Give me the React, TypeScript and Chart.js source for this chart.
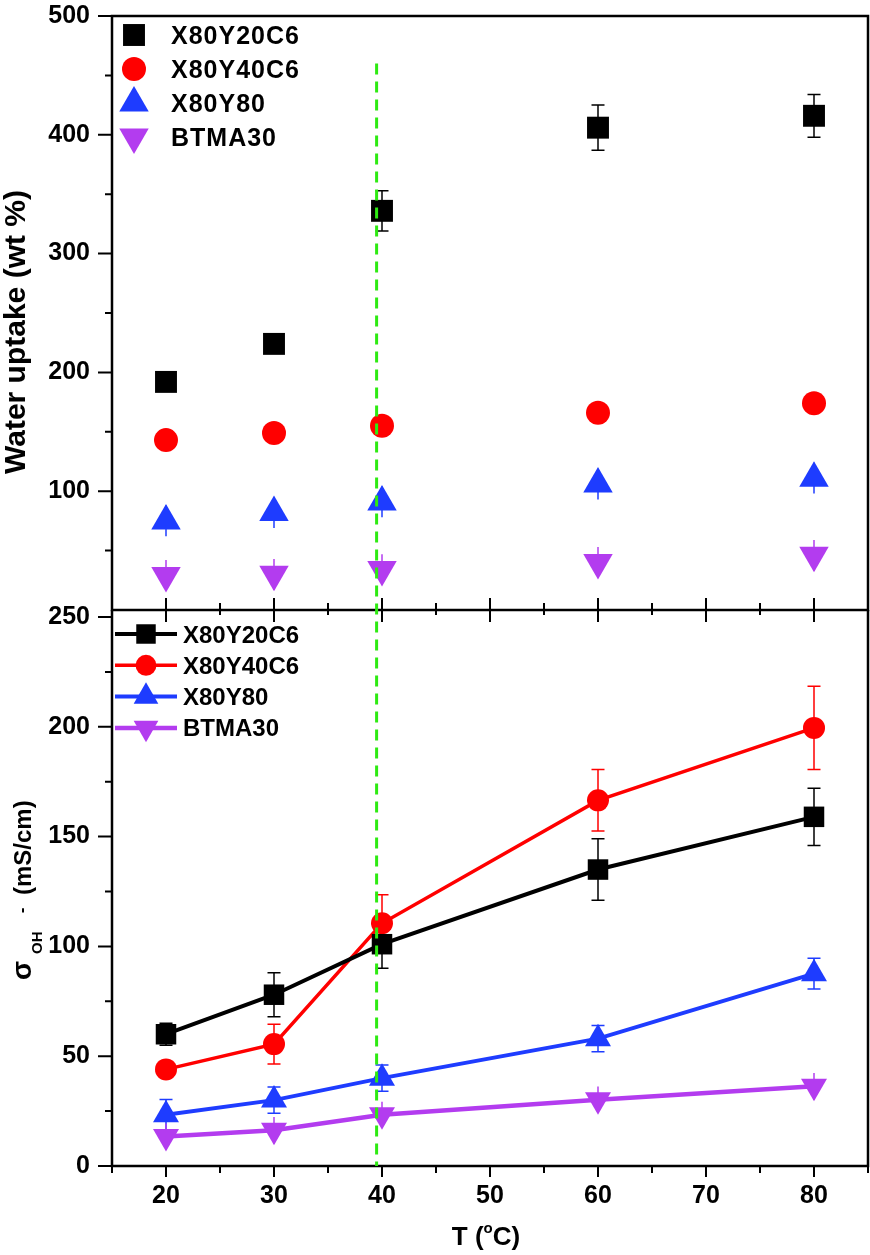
import React, { useEffect, useRef } from 'react';
import { Chart, registerables } from 'chart.js';
import { drawPoint } from 'chart.js/helpers';

Chart.register(...registerables);

// ---------------- data ----------------
const temperatures = [20, 30, 40, 60, 80];
const seriesNames = ['X80Y20C6', 'X80Y40C6', 'X80Y80', 'BTMA30'];
const seriesColors = ['#000000', '#FF0000', '#1E3CFF', '#B33CEF'];
const seriesStyles = ['rect', 'circle', 'triangle', 'triangle'];
const seriesRotations = [0, 0, 0, 180];

// water uptake (wt %)
const uptakeX80Y20C6 = [192, 224, 336, 406, 416];
const uptakeX80Y40C6 = [143, 149, 155, 166, 174];
const uptakeX80Y80 = [75, 82, 91, 106, 111];
const uptakeBTMA30 = [29, 30, 34, 40, 46];
const uptakeErrX80Y20C6 = [2, 3, 17, 19, 18];
const uptakeErrX80Y40C6 = [0, 0, 0, 0, 0];
const uptakeErrX80Y80 = [13, 13, 13, 13, 13];
const uptakeErrBTMA30 = [13, 13, 13, 13, 13];

// conductivity (mS/cm)
const condX80Y20C6 = [60, 78, 101, 135, 159];
const condX80Y40C6 = [44, 55.5, 110.5, 166.5, 199.5];
const condX80Y80 = [23.3, 30, 40, 58, 87.6];
const condBTMA30 = [13.4, 16.3, 23.3, 30.2, 36.3];
const condErrX80Y20C6 = [5, 10, 11, 14, 13];
const condErrX80Y40C6 = [3, 9, 13, 14, 19];
const condErrX80Y80 = [7, 6, 6, 6, 7];
const condErrBTMA30 = [6, 6, 6, 6, 6];

// ticks
const xTickLabels = [20, 30, 40, 50, 60, 70, 80];
const uptakeTickLabels = [100, 200, 300, 400, 500];
const condTickLabels = [0, 50, 100, 150, 200, 250];
const guideLineX = 39.5;
const guideLineTopUptake = 460;

// ---------------- layout / style ----------------
const W = 870;
const H = 1255;
const FONT = '"Liberation Sans", Arial, Helvetica, sans-serif';
const bold = (s: number) => `bold ${s}px ${FONT}`;

const topMarkerRadius = [15.5, 12, 17, 17];
const botMarkerRadius = [14.5, 11, 15, 15];
const botLineWidths = [4, 3.5, 4, 4.5];
const topCapWidths = [13, 13, 0, 0];
const botCapWidths = [13, 13, 13, 0];

function mkPoints(vals: number[]) {
  return temperatures.map((t, i) => ({ x: t, y: vals[i] }));
}

function xScale(showLabels: boolean, height: number) {
  return {
    type: 'linear',
    min: 15,
    max: 85,
    grid: { display: false, drawTicks: false },
    border: { display: false },
    ticks: {
      display: showLabels,
      stepSize: 5,
      autoSkip: false,
      maxRotation: 0,
      padding: 15,
      color: '#000',
      font: { family: FONT, size: 25, weight: 'bold' },
      callback: (v: any) => (xTickLabels.includes(Number(v)) ? String(v) : ''),
    },
    afterFit: (s: any) => {
      s.height = height;
      s.paddingLeft = 0;
      s.paddingRight = 0;
    },
  };
}

function yScale(max: number, step: number, labels: number[]) {
  return {
    type: 'linear',
    min: 0,
    max,
    grid: { display: false, drawTicks: false },
    border: { display: false },
    ticks: {
      stepSize: step,
      autoSkip: false,
      padding: 22,
      color: '#000',
      font: { family: FONT, size: 25, weight: 'bold' },
      callback: (v: any) => (labels.includes(Number(v)) ? String(v) : ''),
    },
    afterFit: (s: any) => {
      s.width = 112;
      s.paddingTop = 0;
      s.paddingBottom = 0;
    },
  };
}

function errorBarPlugin(errs: number[][], caps: number[]) {
  return {
    id: 'errbars',
    beforeDatasetsDraw(chart: any) {
      const { ctx } = chart;
      const xs = chart.scales.x;
      const ys = chart.scales.y;
      chart.data.datasets.forEach((ds: any, di: number) => {
        ctx.save();
        ctx.strokeStyle = seriesColors[di];
        ctx.lineWidth = 1.5;
        const c = caps[di] / 2;
        ds.data.forEach((p: any, i: number) => {
          const e = errs[di][i];
          if (!e) return;
          const px = xs.getPixelForValue(p.x);
          const y1 = ys.getPixelForValue(p.y + e);
          const y2 = ys.getPixelForValue(p.y - e);
          ctx.beginPath();
          ctx.moveTo(px, y1);
          ctx.lineTo(px, y2);
          if (c > 0) {
            ctx.moveTo(px - c, y1);
            ctx.lineTo(px + c, y1);
            ctx.moveTo(px - c, y2);
            ctx.lineTo(px + c, y2);
          }
          ctx.stroke();
        });
        ctx.restore();
      });
    },
  };
}

function drawMarker(ctx: any, i: number, r: number, x: number, y: number) {
  ctx.save();
  ctx.fillStyle = seriesColors[i];
  ctx.strokeStyle = seriesColors[i];
  drawPoint(ctx, { pointStyle: seriesStyles[i], rotation: seriesRotations[i], radius: r, borderWidth: 0 } as any, x, y);
  ctx.restore();
}

const topFramePlugin = {
  id: 'topframe',
  beforeDatasetsDraw(chart: any) {
    const { ctx, chartArea: a } = chart;
    const xs = chart.scales.x;
    const ys = chart.scales.y;
    ctx.save();
    ctx.strokeStyle = '#000';
    ctx.lineWidth = 2.5;
    ctx.strokeRect(a.left, a.top, a.right - a.left, a.bottom - a.top);
    ctx.lineWidth = 2;
    ctx.beginPath();
    ys.ticks.forEach((t: any) => {
      if (t.value <= 0) return;
      const y = ys.getPixelForValue(t.value);
      const len = uptakeTickLabels.includes(t.value) ? 14 : 7;
      ctx.moveTo(a.left - len, y);
      ctx.lineTo(a.left, y);
    });
    xs.ticks.forEach((t: any) => {
      if (t.value <= xs.min || t.value >= xs.max) return;
      const x = xs.getPixelForValue(t.value);
      const major = xTickLabels.includes(t.value);
      ctx.moveTo(x, a.bottom - (major ? 12 : 7));
      ctx.lineTo(x, a.bottom + (major ? 12 : 5));
    });
    ctx.stroke();
    ctx.restore();
  },
  afterDraw(chart: any) {
    const { ctx, chartArea: a } = chart;
    ctx.save();
    // legend
    ctx.font = bold(25);
    ctx.fillStyle = '#000';
    ctx.textBaseline = 'alphabetic';
    ctx.textAlign = 'left';
    (ctx as any).letterSpacing = '1px';
    seriesNames.forEach((name, i) => {
      const y = a.top + 19 + i * 34;
      drawMarker(ctx, i, topMarkerRadius[i], a.left + 22, y);
      ctx.fillStyle = '#000';
      ctx.fillText(name, a.left + 59, y + 25 * 0.358);
    });
    (ctx as any).letterSpacing = '0px';
    // y title
    ctx.translate(25, 332);
    ctx.rotate(-Math.PI / 2);
    ctx.font = bold(30);
    ctx.textAlign = 'center';
    ctx.fillText('Water uptake (wt %)', 0, 0);
    ctx.restore();
  },
};

function bottomPlugin(getTop: () => any) {
  return {
    id: 'botframe',
    beforeDatasetsDraw(chart: any) {
      const { ctx, chartArea: a } = chart;
      const xs = chart.scales.x;
      const ys = chart.scales.y;
      ctx.save();
      ctx.strokeStyle = '#000';
      ctx.lineWidth = 2.5;
      ctx.beginPath();
      ctx.moveTo(a.left, a.top - 7);
      ctx.lineTo(a.left, a.bottom);
      ctx.lineTo(a.right, a.bottom);
      ctx.lineTo(a.right, a.top - 7);
      ctx.stroke();
      ctx.lineWidth = 2;
      ctx.beginPath();
      ys.ticks.forEach((t: any) => {
        const y = ys.getPixelForValue(t.value);
        const len = condTickLabels.includes(t.value) ? 14 : 7;
        ctx.moveTo(a.left - len, y);
        ctx.lineTo(a.left, y);
      });
      xs.ticks.forEach((t: any) => {
        const x = xs.getPixelForValue(t.value);
        const major = xTickLabels.includes(t.value);
        ctx.moveTo(x, a.bottom);
        ctx.lineTo(x, a.bottom + (major ? 11 : 7));
      });
      ctx.stroke();
      ctx.restore();
    },
    afterDraw(chart: any) {
      const { ctx, chartArea: a } = chart;
      const xs = chart.scales.x;
      ctx.save();
      // legend
      ctx.font = bold(24);
      ctx.fillStyle = '#000';
      ctx.textBaseline = 'alphabetic';
      ctx.textAlign = 'left';
      seriesNames.forEach((name, i) => {
        const y = a.top + 17 + i * 31.3;
        ctx.strokeStyle = seriesColors[i];
        ctx.lineWidth = botLineWidths[i];
        ctx.beginPath();
        ctx.moveTo(a.left + 3, y);
        ctx.lineTo(a.left + 65, y);
        ctx.stroke();
        drawMarker(ctx, i, botMarkerRadius[i] * 0.95, a.left + 34, y);
        ctx.fillStyle = '#000';
        ctx.fillText(name, a.left + 71, y + 24 * 0.358);
      });
      // x title: T (oC)
      const cx = (a.left + a.right) / 2 - 4;
      const by = 1245;
      ctx.font = bold(26);
      const w1 = ctx.measureText('T (').width;
      const w3 = ctx.measureText('C)').width;
      ctx.font = bold(15);
      const w2 = ctx.measureText('o').width;
      const x0 = cx - (w1 + w2 + w3) / 2;
      ctx.font = bold(26);
      ctx.fillText('T (', x0, by);
      ctx.font = bold(15);
      ctx.fillText('o', x0 + w1, by - 12);
      ctx.font = bold(26);
      ctx.fillText('C)', x0 + w1 + w2, by);
      // y title: sigma_OH- (mS/cm)
      ctx.save();
      ctx.translate(31, 980);
      ctx.rotate(-Math.PI / 2);
      ctx.font = bold(28);
      ctx.fillText('σ', 0, 0);
      ctx.font = bold(15);
      ctx.fillText('OH', 26, 11);
      ctx.font = bold(16);
      ctx.fillText('-', 67, -4);
      ctx.font = bold(24);
      ctx.fillText('(mS/cm)', 85, 0);
      ctx.restore();
      // green dashed guide line spanning both panels
      const top = getTop();
      const gx = xs.getPixelForValue(guideLineX);
      const gy0 = top ? top.scales.y.getPixelForValue(guideLineTopUptake) : a.top;
      ctx.strokeStyle = '#2EEA12';
      ctx.lineWidth = 3;
      ctx.setLineDash([11, 7]);
      ctx.beginPath();
      ctx.moveTo(gx, gy0);
      ctx.lineTo(gx, a.bottom);
      ctx.stroke();
      ctx.restore();
    },
  };
}

export default function App() {
  const topRef = useRef<HTMLCanvasElement>(null);
  const botRef = useRef<HTMLCanvasElement>(null);

  useEffect(() => {
    if (!topRef.current || !botRef.current) return;
    const uptake = [uptakeX80Y20C6, uptakeX80Y40C6, uptakeX80Y80, uptakeBTMA30];
    const cond = [condX80Y20C6, condX80Y40C6, condX80Y80, condBTMA30];

    const topChart = new Chart(topRef.current, {
      type: 'line',
      data: {
        datasets: uptake.map((vals, i) => ({
          label: seriesNames[i],
          data: mkPoints(vals),
          showLine: false,
          pointStyle: seriesStyles[i],
          pointRotation: seriesRotations[i],
          pointRadius: topMarkerRadius[i],
          pointBackgroundColor: seriesColors[i],
          pointBorderColor: seriesColors[i],
          pointBorderWidth: 0,
          borderColor: seriesColors[i],
        })),
      },
      options: {
        responsive: false,
        animation: false,
        events: [],
        layout: { autoPadding: false, padding: { top: 16, left: 0, right: 2, bottom: H - 610 } },
        plugins: { legend: { display: false }, tooltip: { enabled: false }, title: { display: false } },
        scales: {
          x: xScale(false, 0),
          y: yScale(500, 50, uptakeTickLabels),
        },
      } as any,
      plugins: [
        errorBarPlugin([uptakeErrX80Y20C6, uptakeErrX80Y40C6, uptakeErrX80Y80, uptakeErrBTMA30], topCapWidths),
        topFramePlugin,
      ],
    } as any);

    const botChart = new Chart(botRef.current, {
      type: 'line',
      data: {
        datasets: cond.map((vals, i) => ({
          label: seriesNames[i],
          data: mkPoints(vals),
          showLine: true,
          borderColor: seriesColors[i],
          borderWidth: botLineWidths[i],
          pointStyle: seriesStyles[i],
          pointRotation: seriesRotations[i],
          pointRadius: botMarkerRadius[i],
          pointBackgroundColor: seriesColors[i],
          pointBorderColor: seriesColors[i],
          pointBorderWidth: 0,
          tension: 0,
          fill: false,
        })),
      },
      options: {
        responsive: false,
        animation: false,
        events: [],
        layout: { autoPadding: false, padding: { top: 617, left: 0, right: 2, bottom: 0 } },
        plugins: { legend: { display: false }, tooltip: { enabled: false }, title: { display: false } },
        scales: {
          x: xScale(true, H - 1166),
          y: yScale(250, 25, condTickLabels),
        },
      } as any,
      plugins: [
        errorBarPlugin([condErrX80Y20C6, condErrX80Y40C6, condErrX80Y80, condErrBTMA30], botCapWidths),
        bottomPlugin(() => topChart),
      ],
    } as any);

    return () => {
      botChart.destroy();
      topChart.destroy();
    };
  }, []);

  const cs: React.CSSProperties = { position: 'absolute', left: 0, top: 0, width: W, height: H };
  return (
    <div style={{ position: 'absolute', left: 0, top: 0, width: W, height: H, background: '#fff' }}>
      <canvas ref={topRef} width={W} height={H} style={cs} />
      <canvas ref={botRef} width={W} height={H} style={cs} />
    </div>
  );
}
